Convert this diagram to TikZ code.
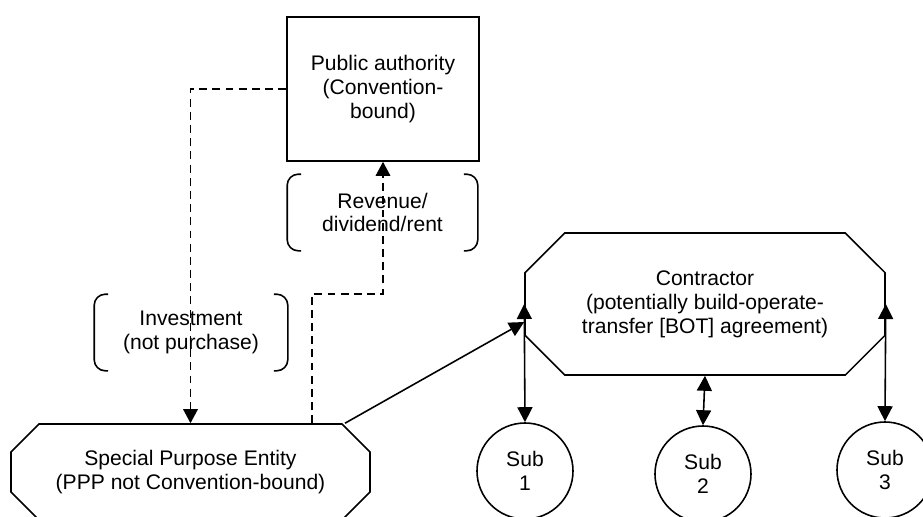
\documentclass[tikz,border=0pt]{standalone}
\usepackage{fontspec}
\setmainfont{Liberation Sans}
\usetikzlibrary{shapes.misc, arrows.meta, positioning, calc}

\begin{document}
\begin{tikzpicture}[
    every node/.style={font=\fontsize{12}{13.6}\selectfont, align=center},
    line width=0.9pt,
    flow/.style={dash pattern=on 4.5pt off 3pt, -{Triangle[length=0.28cm,width=0.29cm]}},
    link/.style={-{Triangle[length=0.3cm,width=0.3cm]}},
    both/.style={{Triangle[length=0.3cm,width=0.3cm]}-{Triangle[length=0.3cm,width=0.3cm]}},
    octa/.style={draw, chamfered rectangle, chamfered rectangle xsep=#1, inner sep=0pt},
    sub/.style={draw, circle, minimum size=1.92cm, inner sep=0pt}
  ]
    \useasboundingbox (0,0) rectangle (18.46,10.32);

    \node[draw, minimum width=3.84cm, minimum height=2.88cm] at (7.66,8.54) (pa) {Public authority\\(Convention-\\bound)};
    \node[octa=0.54cm, minimum width=7.18cm, minimum height=1.92cm] at (3.81,0.88) (spe) {Special Purpose Entity\\(PPP not Convention-bound)};
    \node[octa=0.82cm, minimum width=7.2cm, minimum height=2.84cm] at (14.10,4.24) (ct) {Contractor\\(potentially build-operate-\\transfer [BOT] agreement)};

    \node[sub] at (10.50,0.90) (sub1) {Sub\\1};
    \node[sub] at (14.06,0.84) (sub2) {Sub\\2};
    \node[sub] at (17.70,0.92) (sub3) {Sub\\3};

    % bracketed labels
    \node[minimum width=3.78cm, minimum height=1.5cm] at (7.65,6.07) (rev) {Revenue/\\dividend/rent};
    \draw[rounded corners=0.22cm] ([xshift=0.28cm]rev.north west) -- (rev.north west) -- (rev.south west) -- ([xshift=0.28cm]rev.south west);
    \draw[rounded corners=0.22cm] ([xshift=-0.28cm]rev.north east) -- (rev.north east) -- (rev.south east) -- ([xshift=-0.28cm]rev.south east);

    \node[minimum width=3.84cm, minimum height=1.5cm] at (3.82,3.67) (inv) {Investment\\(not purchase)};
    \draw[rounded corners=0.22cm] ([xshift=0.28cm]inv.north west) -- (inv.north west) -- (inv.south west) -- ([xshift=0.28cm]inv.south west);
    \draw[rounded corners=0.22cm] ([xshift=-0.28cm]inv.north east) -- (inv.north east) -- (inv.south east) -- ([xshift=-0.28cm]inv.south east);

    % money flows
    \draw[flow] (pa.west) -| (spe.north);
    \draw[flow] ([xshift=2.43cm]spe.north) |- ([yshift=-2.64cm]pa.south) -- (pa.south);

    % contracts
    \draw[link] ([xshift=3.09cm]spe.north) -- ([yshift=-0.36cm]ct.west);
    \draw[both] (ct.west) -- (sub1.north);
    \draw[both] (ct.south) -- (sub2.north);
    \draw[both] (ct.east) -- (sub3.north);
\end{tikzpicture}
\end{document}
